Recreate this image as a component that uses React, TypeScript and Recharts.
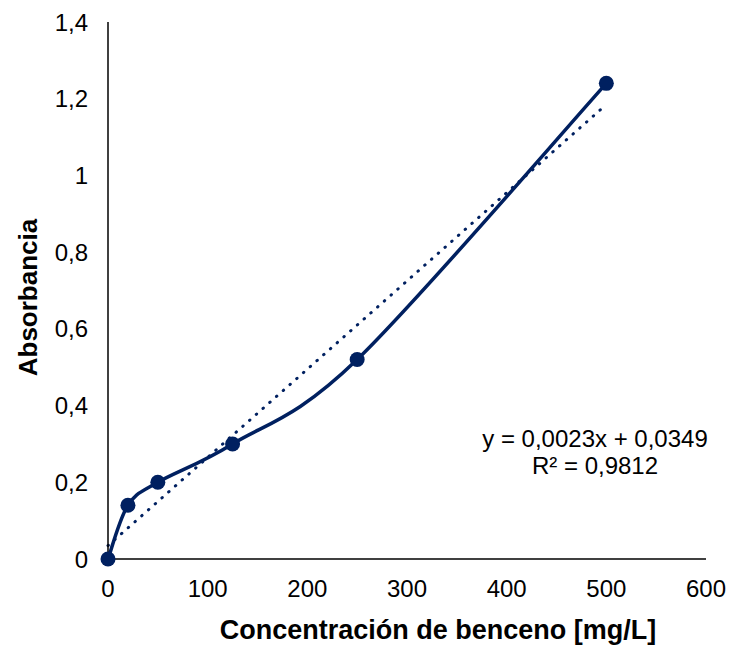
import { LineChart, Line, XAxis, YAxis, Label } from 'recharts'

// calibration points: benzene concentration (mg/L) vs absorbance
const concentrations = [0, 20, 50, 125, 250, 500]
const absorbances = [0, 0.14, 0.2, 0.3, 0.52, 1.24]

// linear fit reported by the trendline
const slope = 0.0023
const intercept = 0.0349
const fitRange = [0, 500]

const xTicks = [0, 100, 200, 300, 400, 500, 600]
const yTicks = [0, 0.2, 0.4, 0.6, 0.8, 1, 1.2, 1.4]

const navy = '#002060'
const font = 'Arial, "Liberation Sans", sans-serif'

const points = concentrations.map((c, i) => ({ x: c, y: absorbances[i] }))
const fit = fitRange.map(x => ({ x, y: slope * x + intercept }))

const fmt = (v: number) => String(v).replace('.', ',')

// Catmull-Rom style smoothing (spreadsheet "smoothed line")
const smoothCurve = (ctx: any) => {
  let pts: [number, number][] = []
  return {
    areaStart() {},
    areaEnd() {},
    lineStart() {
      pts = []
    },
    point(x: number, y: number) {
      pts.push([+x, +y])
    },
    lineEnd() {
      if (!pts.length) return
      ctx.moveTo(pts[0][0], pts[0][1])
      for (let i = 0; i < pts.length - 1; i++) {
        const p0 = pts[i - 1] || pts[i]
        const p1 = pts[i]
        const p2 = pts[i + 1]
        const p3 = pts[i + 2] || pts[i + 1]
        ctx.bezierCurveTo(
          p1[0] + (p2[0] - p0[0]) / 6,
          p1[1] + (p2[1] - p0[1]) / 6,
          p2[0] - (p3[0] - p1[0]) / 6,
          p2[1] - (p3[1] - p1[1]) / 6,
          p2[0],
          p2[1]
        )
      }
    },
  }
}

const YTitle = ({ viewBox }: any) => {
  const cx = viewBox.x + 37
  const cy = viewBox.y + viewBox.height / 2 + 7
  return (
    <text
      x={cx}
      y={cy}
      transform={`rotate(-90 ${cx} ${cy})`}
      textAnchor="middle"
      fill="#000"
      fontSize={26}
      fontWeight="bold"
      fontFamily={font}
    >
      Absorbancia
    </text>
  )
}

export default function App() {
  return (
    <div style={{ position: 'relative', width: 729, height: 646, fontFamily: font }}>
      <style>{'body{margin:0}'}</style>
      <LineChart width={729} height={646} margin={{ top: 22, right: 23, bottom: 0, left: 0 }}>
        <XAxis
          type="number"
          dataKey="x"
          domain={[0, 600]}
          ticks={xTicks}
          tickLine={false}
          tickSize={0}
          tickMargin={21}
          axisLine={{ stroke: '#000', strokeWidth: 1.5 }}
          tick={{ fill: '#000', fontSize: 24, fontFamily: font }}
          height={87}
        >
          <Label
            value="Concentración de benceno [mg/L]"
            position="insideBottom"
            offset={7}
            dx={31}
            style={{ fill: '#000', fontSize: 27, fontWeight: 'bold', fontFamily: font }}
          />
        </XAxis>
        <YAxis
          type="number"
          dataKey="y"
          domain={[0, 1.4]}
          ticks={yTicks}
          tickFormatter={fmt}
          tickLine={false}
          tickSize={0}
          tickMargin={20}
          axisLine={{ stroke: '#000', strokeWidth: 1.5 }}
          tick={{ fill: '#000', fontSize: 24, fontFamily: font }}
          width={108}
        >
          <Label content={YTitle} />
        </YAxis>
        <Line
          data={fit}
          dataKey="y"
          type="linear"
          stroke={navy}
          strokeWidth={3}
          strokeDasharray="0.5 8.5"
          strokeLinecap="round"
          dot={false}
          activeDot={false}
          isAnimationActive={false}
        />
        <Line
          data={points}
          dataKey="y"
          type={smoothCurve as any}
          stroke={navy}
          strokeWidth={3.5}
          dot={{ r: 7.5, fill: navy, stroke: navy, strokeWidth: 0 }}
          activeDot={false}
          isAnimationActive={false}
        />
      </LineChart>
      <div
        style={{
          position: 'absolute',
          left: 460,
          top: 425,
          width: 270,
          textAlign: 'center',
          fontSize: 24,
          lineHeight: '27px',
          color: '#000',
        }}
      >
        <div>y = 0,0023x + 0,0349</div>
        <div>R² = 0,9812</div>
      </div>
    </div>
  )
}
